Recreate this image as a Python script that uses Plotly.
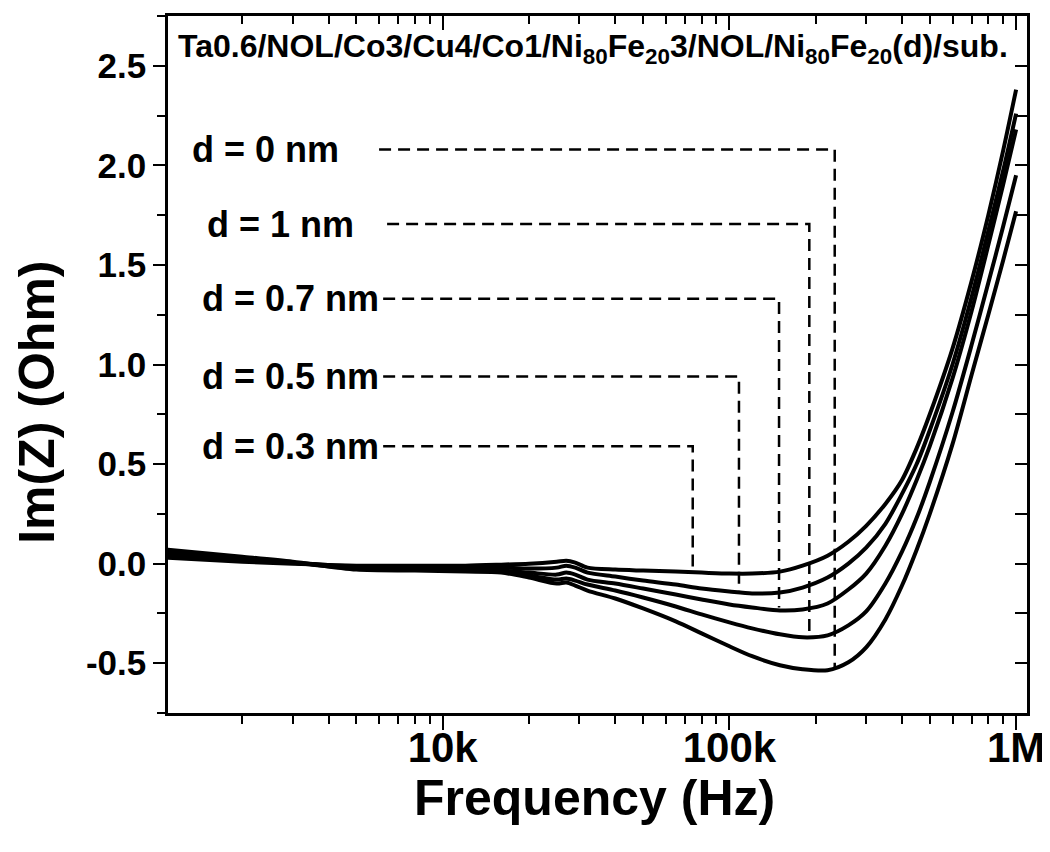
import numpy as np
import plotly.graph_objects as go

# ---------------- data ----------------
freq_hz = [1.1e3, 2e3, 3e3, 5e3, 8e3, 12e3, 16e3, 20e3, 25e3, 27e3, 29e3, 32e3,
           40e3, 50e3, 65e3, 80e3, 100e3, 120e3, 150e3, 180e3, 220e3, 260e3,
           300e3, 350e3, 400e3, 450e3, 500e3, 600e3, 700e3, 800e3, 900e3, 1e6]

imz_d0 = [0.07, 0.035, 0.01, -0.03, -0.035, -0.04, -0.045, -0.07, -0.1, -0.095, -0.11, -0.135,
          -0.175, -0.225, -0.29, -0.35, -0.415, -0.465, -0.51, -0.53, -0.535, -0.495,
          -0.42, -0.28, -0.11, 0.07, 0.25, 0.6, 0.95, 1.25, 1.52, 1.77]
imz_d1 = [0.06, 0.03, 0.005, -0.025, -0.03, -0.035, -0.04, -0.06, -0.08, -0.075, -0.085, -0.105,
          -0.135, -0.17, -0.215, -0.255, -0.295, -0.325, -0.355, -0.37, -0.36, -0.31,
          -0.24, -0.1, 0.06, 0.23, 0.41, 0.76, 1.1, 1.41, 1.69, 1.95]
imz_d07 = [0.055, 0.025, 0.005, -0.02, -0.025, -0.03, -0.035, -0.045, -0.055, -0.045, -0.055, -0.08,
           -0.1, -0.125, -0.155, -0.18, -0.205, -0.22, -0.235, -0.23, -0.2, -0.13,
           -0.05, 0.09, 0.25, 0.42, 0.59, 0.93, 1.27, 1.6, 1.9, 2.18]
imz_d05 = [0.045, 0.02, 0.005, -0.015, -0.02, -0.02, -0.02, -0.025, -0.02, -0.01, -0.02, -0.045,
           -0.065, -0.085, -0.105, -0.125, -0.14, -0.15, -0.145, -0.12, -0.07, 0.0,
           0.08, 0.2, 0.35, 0.5, 0.67, 1.0, 1.34, 1.67, 1.97, 2.26]
imz_d03 = [0.03, 0.01, 0.0, -0.01, -0.01, -0.01, -0.005, 0.0, 0.01, 0.015, 0.005, -0.02,
           -0.03, -0.035, -0.04, -0.045, -0.05, -0.05, -0.04, -0.01, 0.04, 0.11,
           0.19, 0.3, 0.42, 0.58, 0.75, 1.08, 1.42, 1.75, 2.07, 2.38]

series = [imz_d0, imz_d1, imz_d07, imz_d05, imz_d03]

label_text = ["d = 0 nm", "d = 1 nm", "d = 0.7 nm", "d = 0.5 nm", "d = 0.3 nm"]
label_freq = [1312, 1480, 1422, 1422, 1422]
dash_start_freq = [6.0e3, 6.4e3, 6.2e3, 6.2e3, 6.2e3]
min_freq = [2.33e5, 1.9e5, 1.49e5, 1.08e5, 7.45e4]
level_y = [2.08, 1.705, 1.33, 0.94, 0.59]
min_y = [-0.525, -0.37, -0.22, -0.145, -0.035]

x_tickvals = [1e4, 1e5, 1e6]
x_ticktext = ["10k", "100k", "1M"]
y_tickvals = [-0.5, 0.0, 0.5, 1.0, 1.5, 2.0, 2.5]
y_ticktext = ["-0.5", "0.0", "0.5", "1.0", "1.5", "2.0", "2.5"]

title_text = ("Ta0.6/NOL/Co3/Cu4/Co1/Ni<sub>80</sub>Fe<sub>20</sub>3/NOL/"
              "Ni<sub>80</sub>Fe<sub>20</sub>(d)/sub.")
x_title = "Frequency (Hz)"
y_title = "Im(Z) (Ohm)"

x_range_log = [3.042, 6.038]
y_range = [-0.75, 2.75]

# ---------------- figure ----------------
BOLD = "Liberation Sans, Arial, sans-serif"

fig = go.Figure()

for ys in series:
    fig.add_trace(go.Scatter(x=freq_hz, y=ys, mode="lines",
                             line=dict(color="black", width=4, shape="spline", smoothing=0.8),
                             showlegend=False, hoverinfo="skip"))

for i in range(len(label_text)):
    fig.add_trace(go.Scatter(x=[dash_start_freq[i], min_freq[i], min_freq[i]],
                             y=[level_y[i], level_y[i], min_y[i]],
                             mode="lines",
                             line=dict(color="black", width=2.5, dash="12px,7px"),
                             showlegend=False, hoverinfo="skip"))
    fig.add_annotation(x=np.log10(label_freq[i]), y=level_y[i], xref="x", yref="y",
                       text="<b>" + label_text[i] + "</b>", showarrow=False,
                       xanchor="left", yanchor="middle",
                       font=dict(family=BOLD, size=36, color="black"))

# dummy trace for top / right mirrored axes with inside ticks
fig.add_trace(go.Scatter(x=[freq_hz[0]], y=[None], xaxis="x2", yaxis="y2",
                         mode="lines", showlegend=False, hoverinfo="skip"))

fig.add_annotation(x=0.495, y=0.954, xref="paper", yref="paper",
                   text="<b>" + title_text + "</b>", showarrow=False,
                   xanchor="center", yanchor="middle",
                   font=dict(family=BOLD, size=32, color="black"))

# axis titles as annotations for exact placement
fig.add_annotation(x=0.4965, y=-0.122, xref="paper", yref="paper",
                   text="<b>" + x_title + "</b>", showarrow=False,
                   xanchor="center", yanchor="middle",
                   font=dict(family=BOLD, size=50, color="black"))
fig.add_annotation(x=-0.152, y=0.4457, xref="paper", yref="paper",
                   text="<b>" + y_title + "</b>", showarrow=False, textangle=-90,
                   xanchor="center", yanchor="middle",
                   font=dict(family=BOLD, size=50, color="black"))

fig.update_layout(
    width=1042, height=844,
    margin=dict(l=160, r=19, t=5, b=139),
    paper_bgcolor="white", plot_bgcolor="white",
    showlegend=False,
    xaxis=dict(type="log", range=x_range_log, showgrid=False, zeroline=False,
               showline=True, linecolor="black", linewidth=2.5, mirror=True,
               ticks="outside", ticklen=14, tickwidth=2, tickcolor="black",
               tickvals=x_tickvals, ticktext=x_ticktext, ticklabeloverflow="allow",
               ticklabelstandoff=-18,
               tickfont=dict(family=BOLD, size=42, color="black", weight="bold"),
               minor=dict(ticks="outside", ticklen=8, tickwidth=2, tickcolor="black",
                          dtick="D1", showgrid=False)),
    yaxis=dict(range=y_range, showgrid=False, zeroline=False,
               showline=True, linecolor="black", linewidth=2.5, mirror=True,
               ticks="outside", ticklen=12, tickwidth=2, tickcolor="black",
               tickvals=y_tickvals, ticktext=y_ticktext,
               tickfont=dict(family=BOLD, size=35, color="black", weight="bold"),
               minor=dict(ticks="outside", ticklen=8, tickwidth=2, tickcolor="black",
                          dtick=0.25, tick0=0, showgrid=False)),
    xaxis2=dict(type="log", range=x_range_log, overlaying="x", side="top",
                showgrid=False, zeroline=False, showline=False,
                ticks="inside", ticklen=14, tickwidth=2, tickcolor="black",
                tickvals=x_tickvals, showticklabels=False,
                minor=dict(ticks="inside", ticklen=8, tickwidth=2, tickcolor="black",
                           dtick="D1", showgrid=False)),
    yaxis2=dict(range=y_range, overlaying="y", side="right",
                showgrid=False, zeroline=False, showline=False,
                ticks="inside", ticklen=12, tickwidth=2, tickcolor="black",
                tickvals=y_tickvals, showticklabels=False,
                minor=dict(ticks="inside", ticklen=12, tickwidth=2, tickcolor="black",
                           dtick=0.25, tick0=0, showgrid=False)),
)

fig.write_html("out.html")
